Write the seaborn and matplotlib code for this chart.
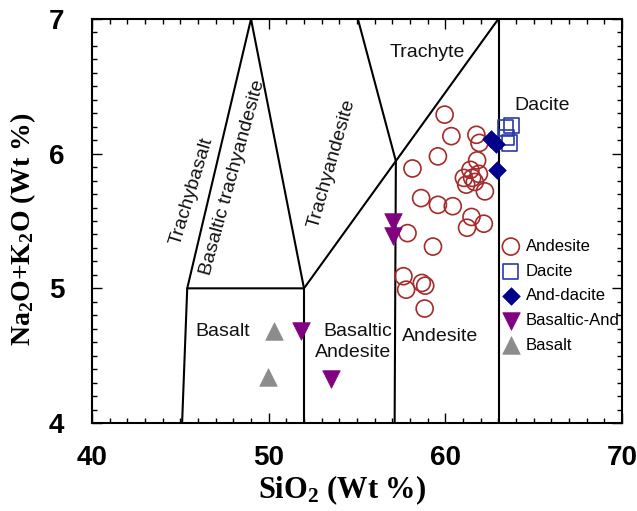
import numpy as np
import pandas as pd
import matplotlib
matplotlib.use("Agg")
import matplotlib.pyplot as plt
import seaborn as sns
from matplotlib.ticker import MultipleLocator, FormatStrFormatter

# ---------------- data ----------------
andesite_x = [59.96, 60.34, 61.76, 61.93, 59.58, 58.14, 61.80, 61.42, 61.90, 61.52,
              61.18, 61.67, 62.24, 58.63, 59.58, 60.42, 61.48, 62.18, 61.23, 57.86,
              59.30, 57.63, 57.78, 58.67, 58.86, 58.83, 61.05]
andesite_y = [6.29, 6.13, 6.14, 6.08, 5.98, 5.89, 5.95, 5.88, 5.85, 5.82,
              5.77, 5.79, 5.72, 5.67, 5.62, 5.61, 5.53, 5.48, 5.45, 5.41,
              5.31, 5.09, 4.99, 5.04, 5.02, 4.85, 5.82]
dacite_x = [63.40, 63.74, 63.45, 63.62]
dacite_y = [6.19, 6.21, 6.12, 6.08]
anddacite_x = [62.56, 62.85, 62.90]
anddacite_y = [6.11, 6.07, 5.88]
basand_x = [57.02, 57.02, 51.84, 53.55]
basand_y = [5.49, 5.39, 4.68, 4.33]
basalt_x = [50.28, 49.94]
basalt_y = [4.68, 4.34]

# TAS field boundaries (SiO2, Na2O+K2O)
boundary_lines = [
    [(45.10, 4.0), (45.39, 5.0), (52.0, 5.0), (52.0, 4.0)],
    [(45.39, 5.0), (49.0, 7.0), (52.0, 5.0)],
    [(52.0, 5.0), (63.0, 7.0)],
    [(55.05, 7.0), (57.2, 5.945)],
    [(57.2, 5.945), (57.13, 4.0)],
    [(63.05, 7.0), (63.05, 4.0)],
]

xticks_major = [40, 50, 60, 70]
yticks_major = [4, 5, 6, 7]

# ---------------- style ----------------
sns.set_style("ticks")
plt.rcParams["font.family"] = ["Liberation Sans", "DejaVu Sans"]
plt.rcParams["mathtext.fontset"] = "custom"
plt.rcParams["mathtext.rm"] = "Liberation Serif:bold"
plt.rcParams["mathtext.bf"] = "Liberation Serif:bold"
plt.rcParams["mathtext.default"] = "rm"
plt.rcParams["text.color"] = "black"
plt.rcParams["xtick.color"] = "black"
plt.rcParams["ytick.color"] = "black"
plt.rcParams["axes.labelcolor"] = "black"

fig = plt.figure(figsize=(6.37, 5.11), dpi=100)
ax = fig.add_axes([92 / 637, 1 - 423 / 511, 530 / 637, 404 / 511])

for seg in boundary_lines:
    xs, ys = zip(*seg)
    ax.plot(xs, ys, color="black", lw=1.5, solid_capstyle="round", zorder=1)

sns.scatterplot(x=andesite_x, y=andesite_y, marker="o", s=150, color="#A52A2A",
                facecolor="none", edgecolor="#A52A2A", linewidth=1.2,
                label="Andesite", ax=ax, zorder=3)
sns.scatterplot(x=dacite_x, y=dacite_y, marker="s", s=120, color="#2B3BA8",
                facecolor="none", edgecolor="#2B3BA8", linewidth=1.2,
                label="Dacite", ax=ax, zorder=3)
sns.scatterplot(x=anddacite_x, y=anddacite_y, marker="D", s=80, color="#00008B",
                edgecolor="#00008B", linewidth=0.5,
                label="And-dacite", ax=ax, zorder=4)
sns.scatterplot(x=basand_x, y=basand_y, marker="v", s=160, color="#800080",
                edgecolor="#800080", linewidth=0.5,
                label="Basaltic-And", ax=ax, zorder=4)
sns.scatterplot(x=basalt_x, y=basalt_y, marker="^", s=160, color="#8C8C8C",
                edgecolor="#8C8C8C", linewidth=0.5,
                label="Basalt", ax=ax, zorder=4)

ax.set_xlim(40, 70)
ax.set_ylim(4, 7)
ax.set_xticks(xticks_major)
ax.set_yticks(yticks_major)
ax.xaxis.set_minor_locator(MultipleLocator(1))
ax.yaxis.set_minor_locator(MultipleLocator(0.1))
ax.yaxis.set_major_formatter(FormatStrFormatter("%d"))
ax.tick_params(which="both", direction="in", top=True, right=True, color="black",
               labelcolor="black")
ax.tick_params(which="major", length=7, width=1.0)
ax.tick_params(which="minor", length=3.5, width=1.0)
ax.tick_params(axis="x", which="major", pad=16)
ax.tick_params(axis="y", which="major", pad=20)
for lab in ax.get_xticklabels() + ax.get_yticklabels():
    lab.set_fontsize(20)
    lab.set_fontweight("bold")
for sp in ax.spines.values():
    sp.set_linewidth(1.5)
    sp.set_color("black")

ax.set_xlabel(r"SiO$_2$ (Wt %)", fontsize=22, fontweight="bold",
              family="Liberation Serif", color="black")
ax.set_ylabel(r"Na$_2$O+K$_2$O (Wt %)", fontsize=20, fontweight="bold",
              family="Liberation Serif", color="black")
ax.xaxis.set_label_coords(0.472, -0.125)
ax.yaxis.set_label_coords(-0.102, 0.48)

# field labels
tk = dict(fontsize=14, color="#111111", zorder=2)
ax.text(59.0, 6.75, "Trachyte", ha="center", va="center", **tk)
ax.text(63.9, 6.36, "Dacite", ha="left", va="center", **tk)
ax.text(45.67, 5.72, "Trachybasalt", rotation=73, rotation_mode="anchor",
        ha="center", va="center", **tk)
ax.text(47.95, 5.82, "Basaltic trachyandesite", rotation=74.5, rotation_mode="anchor",
        ha="center", va="center", **tk)
ax.text(53.6, 5.93, "Trachyandesite", rotation=74, rotation_mode="anchor",
        ha="center", va="center", **tk)
ax.text(47.42, 4.68, "Basalt", ha="center", va="center", **tk)
ax.text(56.96, 4.68, "Basaltic", ha="right", va="center", **tk)
ax.text(56.96, 4.52, "Andesite", ha="right", va="center", **tk)
ax.text(57.55, 4.64, "Andesite", ha="left", va="center", **tk)

leg = ax.legend(loc="upper left", bbox_to_anchor=(0.762, 0.472), frameon=False,
                fontsize=12, handlelength=1.0, handletextpad=0.4, labelspacing=0.58,
                borderaxespad=0, borderpad=0.4)
for t in leg.get_texts():
    t.set_color("black")

fig.savefig("out.png", dpi=100)
